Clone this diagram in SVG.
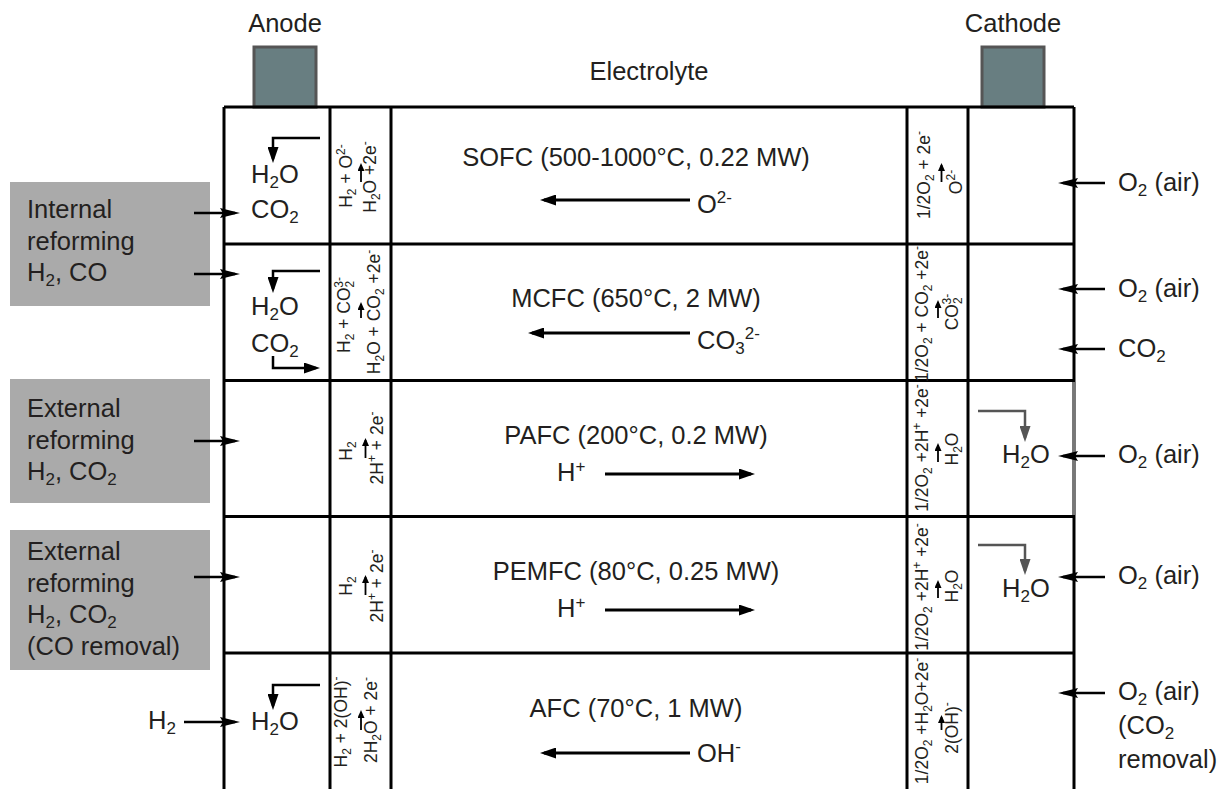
<svg xmlns="http://www.w3.org/2000/svg" width="1224" height="789" viewBox="0 0 1224 789">
<style>
text{font-family:"Liberation Sans",Arial,sans-serif;fill:#231f20}
.t{font-size:25.5px}
.r{font-size:17.5px}
.sb{font-size:17px}
.rs{font-size:12px}
.grid{stroke:#000;stroke-width:3;fill:none}
.el{fill:#687e81;stroke:#555;stroke-width:3}
.ref{fill:#aaaaaa}
.a{stroke:#000;stroke-width:2.5;fill:none}
.ag{stroke:#555;stroke-width:2.5;fill:none}
.c{stroke:#000;stroke-width:3;fill:none}
.s{stroke:#000;stroke-width:1.8;fill:none}
.m{text-anchor:middle}
</style>
<defs>
<marker id="ah" viewBox="0 0 16 11" refX="12" refY="5.5" markerWidth="16" markerHeight="11" markerUnits="userSpaceOnUse" orient="auto"><path d="M0,0L16,5.5L0,11z" fill="#000"/></marker>
<marker id="ahg" viewBox="0 0 16 11" refX="12" refY="5.5" markerWidth="16" markerHeight="11" markerUnits="userSpaceOnUse" orient="auto"><path d="M0,0L16,5.5L0,11z" fill="#555"/></marker>
<marker id="ak" viewBox="0 0 20 10" refX="15" refY="5" markerWidth="20" markerHeight="10" markerUnits="userSpaceOnUse" orient="auto"><path d="M0,0L20,5L0,10L3,5z" fill="#000"/></marker>
<marker id="as" viewBox="0 0 8 7" refX="6" refY="3.5" markerWidth="8" markerHeight="7" markerUnits="userSpaceOnUse" orient="auto"><path d="M0,0L8,3.5L0,7z" fill="#000"/></marker>
</defs>

<g id="electrodes">
<rect class="el" x="254" y="47" width="62" height="60"/>
<rect class="el" x="982" y="47" width="62" height="60"/>
<text class="t m" x="285" y="32">Anode</text>
<text class="t m" x="1013" y="32">Cathode</text>
<text class="t m" x="649" y="80">Electrolyte</text>
</g>

<g id="grid">
<path class="grid" d="M224,107H1074M224,244H1074M224,380.5H1074M224,516.5H1074M224,653H1074M224,107V789M330,107V789M391,107V789M907,107V789M968,107V789M1074,107V789"/>
<path d="M1074,382V515" stroke="#777" stroke-width="3"/>
</g>

<g id="feeds">
<rect class="ref" x="10" y="182" width="200" height="124"/>
<text class="t" x="27" y="218">Internal</text>
<text class="t" x="27" y="250">reforming</text>
<text class="t" x="27" y="281">H<tspan class="sb" dy="5">2</tspan><tspan dy="-5">, CO</tspan></text>
<rect class="ref" x="10" y="379" width="200" height="124"/>
<text class="t" x="27" y="417">External</text>
<text class="t" x="27" y="449">reforming</text>
<text class="t" x="27" y="480">H<tspan class="sb" dy="5">2</tspan><tspan dy="-5">, CO</tspan><tspan class="sb" dy="5">2</tspan></text>
<rect class="ref" x="10" y="530" width="200" height="140"/>
<text class="t" x="27" y="560">External</text>
<text class="t" x="27" y="592">reforming</text>
<text class="t" x="27" y="623">H<tspan class="sb" dy="5">2</tspan><tspan dy="-5">, CO</tspan><tspan class="sb" dy="5">2</tspan></text>
<text class="t" x="27" y="655">(CO removal)</text>
<text class="t" x="148" y="729">H<tspan class="sb" dy="5">2</tspan></text>
</g>

<g id="oxidant">
<text class="t" x="1118" y="191">O<tspan class="sb" dy="5">2</tspan><tspan dy="-5"> (air)</tspan></text>
<text class="t" x="1118" y="297">O<tspan class="sb" dy="5">2</tspan><tspan dy="-5"> (air)</tspan></text>
<text class="t" x="1118" y="357">CO<tspan class="sb" dy="5">2</tspan></text>
<text class="t" x="1118" y="463">O<tspan class="sb" dy="5">2</tspan><tspan dy="-5"> (air)</tspan></text>
<text class="t" x="1118" y="584">O<tspan class="sb" dy="5">2</tspan><tspan dy="-5"> (air)</tspan></text>
<text class="t" x="1118" y="700">O<tspan class="sb" dy="5">2</tspan><tspan dy="-5"> (air)</tspan></text>
<text class="t" x="1118" y="734">(CO<tspan class="sb" dy="5">2</tspan></text>
<text class="t" x="1118" y="768">removal)</text>
</g>

<g id="sofc">
<text class="t m" x="636" y="166">SOFC (500-1000°C, 0.22 MW)</text>
<text class="t" x="697" y="213">O<tspan class="sb" dy="-10">2-</tspan></text>
<text class="t" x="251" y="183">H<tspan class="sb" dy="5">2</tspan><tspan dy="-5">O</tspan></text>
<text class="t" x="251" y="218">CO<tspan class="sb" dy="5">2</tspan></text>
<text class="r m" transform="translate(352,176) rotate(-90)">H<tspan class="rs" dy="4">2</tspan><tspan dy="-4"> + O</tspan><tspan class="rs" dy="-7">2-</tspan></text>
<text class="r m" transform="translate(376,177) rotate(-90)">H<tspan class="rs" dy="4">2</tspan><tspan dy="-4">O +2e</tspan><tspan class="rs" dy="-7">-</tspan></text>
<text class="r m" transform="translate(930,175) rotate(-90)">1/2O<tspan class="rs" dy="4">2</tspan><tspan dy="-4"> + 2e</tspan><tspan class="rs" dy="-7">-</tspan></text>
<text class="r m" transform="translate(962,182) rotate(-90)">O<tspan class="rs" dy="-7">2-</tspan></text>
</g>

<g id="mcfc">
<text class="t m" x="636" y="307">MCFC (650°C, 2 MW)</text>
<text class="t" x="697" y="349">CO<tspan class="sb" dy="5">3</tspan><tspan class="sb" dy="-15">2-</tspan></text>
<text class="t" x="251" y="315">H<tspan class="sb" dy="5">2</tspan><tspan dy="-5">O</tspan></text>
<text class="t" x="251" y="352">CO<tspan class="sb" dy="5">2</tspan></text>
<text class="r m" transform="translate(350,315) rotate(-90)">H<tspan class="rs" dy="4">2</tspan><tspan dy="-4"> + CO</tspan><tspan class="rs" dy="4">2</tspan><tspan class="rs" dx="-7" dy="-11">3-</tspan></text>
<text class="r m" transform="translate(380,312) rotate(-90)">H<tspan class="rs" dy="4">2</tspan><tspan dy="-4">O + CO</tspan><tspan class="rs" dy="4">2</tspan><tspan dy="-4"> +2e</tspan><tspan class="rs" dy="-7">-</tspan></text>
<text class="r m" transform="translate(928,314) rotate(-90)">1/2O<tspan class="rs" dy="4">2</tspan><tspan dy="-4"> + CO</tspan><tspan class="rs" dy="4">2</tspan><tspan dy="-4"> +2e</tspan><tspan class="rs" dy="-7">-</tspan></text>
<text class="r m" transform="translate(958,312) rotate(-90)">CO<tspan class="rs" dy="4">2</tspan><tspan class="rs" dx="-7" dy="-11">3-</tspan></text>
</g>

<g id="pafc">
<text class="t m" x="636" y="444">PAFC (200°C, 0.2 MW)</text>
<text class="t" x="557" y="481">H<tspan class="sb" dy="-9">+</tspan></text>
<text class="t" x="1002" y="463">H<tspan class="sb" dy="5">2</tspan><tspan dy="-5">O</tspan></text>
<text class="r m" transform="translate(352,451) rotate(-90)">H<tspan class="rs" dy="4">2</tspan></text>
<text class="r m" transform="translate(383,448) rotate(-90)">2H<tspan class="rs" dy="-7">+</tspan><tspan dy="7"> + 2e</tspan><tspan class="rs" dy="-7">-</tspan></text>
<text class="r m" transform="translate(928,448) rotate(-90)">1/2O<tspan class="rs" dy="4">2</tspan><tspan dy="-4"> +2H</tspan><tspan class="rs" dy="-7">+</tspan><tspan dy="7"> +2e</tspan><tspan class="rs" dy="-7">-</tspan></text>
<text class="r m" transform="translate(958,449) rotate(-90)">H<tspan class="rs" dy="4">2</tspan><tspan dy="-4">O</tspan></text>
</g>

<g id="pemfc">
<text class="t m" x="636" y="580">PEMFC (80°C, 0.25 MW)</text>
<text class="t" x="557" y="617">H<tspan class="sb" dy="-9">+</tspan></text>
<text class="t" x="1002" y="597">H<tspan class="sb" dy="5">2</tspan><tspan dy="-5">O</tspan></text>
<text class="r m" transform="translate(352,586) rotate(-90)">H<tspan class="rs" dy="4">2</tspan></text>
<text class="r m" transform="translate(383,586) rotate(-90)">2H<tspan class="rs" dy="-7">+</tspan><tspan dy="7"> + 2e</tspan><tspan class="rs" dy="-7">-</tspan></text>
<text class="r m" transform="translate(928,587) rotate(-90)">1/2O<tspan class="rs" dy="4">2</tspan><tspan dy="-4"> +2H</tspan><tspan class="rs" dy="-7">+</tspan><tspan dy="7"> +2e</tspan><tspan class="rs" dy="-7">-</tspan></text>
<text class="r m" transform="translate(958,586) rotate(-90)">H<tspan class="rs" dy="4">2</tspan><tspan dy="-4">O</tspan></text>
</g>

<g id="afc">
<text class="t m" x="636" y="717">AFC (70°C, 1 MW)</text>
<text class="t" x="697" y="762">OH<tspan class="sb" dy="-10">-</tspan></text>
<text class="t" x="251" y="730">H<tspan class="sb" dy="5">2</tspan><tspan dy="-5">O</tspan></text>
<text class="r m" transform="translate(347,722) rotate(-90)">H<tspan class="rs" dy="4">2</tspan><tspan dy="-4"> + 2(OH)</tspan><tspan class="rs" dy="-7">-</tspan></text>
<text class="r m" transform="translate(377,720) rotate(-90)">2H<tspan class="rs" dy="4">2</tspan><tspan dy="-4">O + 2e</tspan><tspan class="rs" dy="-7">-</tspan></text>
<text class="r m" transform="translate(928,721) rotate(-90)">1/2O<tspan class="rs" dy="4">2</tspan><tspan dy="-4"> +H</tspan><tspan class="rs" dy="4">2</tspan><tspan dy="-4">O+2e</tspan><tspan class="rs" dy="-7">-</tspan></text>
<text class="r m" transform="translate(958,728) rotate(-90)">2(OH)<tspan class="rs" dy="-7">-</tspan></text>
</g>

<g id="connectors">
<path class="c" d="M690,200H544" marker-end="url(#ah)"/>
<path class="c" d="M690,333H532" marker-end="url(#ah)"/>
<path class="c" d="M605,474H751" marker-end="url(#ah)"/>
<path class="c" d="M605,610H751" marker-end="url(#ah)"/>
<path class="c" d="M690,753H544" marker-end="url(#ah)"/>
<path class="a" d="M320,138H273V159" marker-end="url(#ah)"/>
<path class="a" d="M320,271H273V289" marker-end="url(#ah)"/>
<path class="a" d="M273,356V368H316" marker-end="url(#ah)"/>
<path class="a" d="M320,685H273V706" marker-end="url(#ah)"/>
<path class="ag" d="M978,411H1025V438" marker-end="url(#ahg)"/>
<path class="ag" d="M978,545H1025V571" marker-end="url(#ahg)"/>
<path class="a" d="M194,213H235" marker-end="url(#ak)"/>
<path class="a" d="M194,274H235" marker-end="url(#ak)"/>
<path class="a" d="M194,441H235" marker-end="url(#ak)"/>
<path class="a" d="M194,577H235" marker-end="url(#ak)"/>
<path class="a" d="M184,722H235" marker-end="url(#ak)"/>
<path class="a" d="M1105,183H1063" marker-end="url(#ak)"/>
<path class="a" d="M1105,289H1063" marker-end="url(#ak)"/>
<path class="a" d="M1105,349H1063" marker-end="url(#ak)"/>
<path class="a" d="M1105,456H1063" marker-end="url(#ak)"/>
<path class="a" d="M1105,577H1063" marker-end="url(#ak)"/>
<path class="a" d="M1105,693H1063" marker-end="url(#ak)"/>
<path class="s" d="M361,182V165" marker-end="url(#as)"/>
<path class="s" d="M361,318V304" marker-end="url(#as)"/>
<path class="s" d="M365.5,458V440" marker-end="url(#as)"/>
<path class="s" d="M365.5,595V577" marker-end="url(#as)"/>
<path class="s" d="M361,730V712" marker-end="url(#as)"/>
<path class="s" d="M941.5,182V165" marker-end="url(#as)"/>
<path class="s" d="M938,318V302" marker-end="url(#as)"/>
<path class="s" d="M938,462V445" marker-end="url(#as)"/>
<path class="s" d="M938,598V582" marker-end="url(#as)"/>
<path class="s" d="M941.5,730V717" marker-end="url(#as)"/>
</g>
</svg>
